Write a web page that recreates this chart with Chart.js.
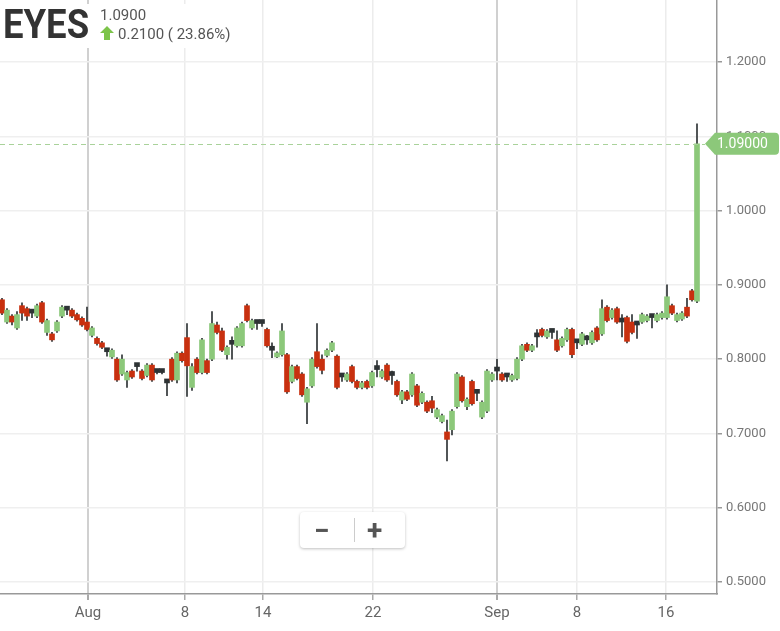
<!DOCTYPE html>
<html>
<head>
<meta charset="utf-8"/>
<title>EYES</title>
<script src="https://cdn.jsdelivr.net/npm/chart.js@4.4.1/dist/chart.umd.min.js"></script>
<style>
  body { margin: 0; background: #fff; font-family: Roboto, sans-serif; }
  #wrap { position: relative; width: 780px; height: 631px; }
  #head { position: absolute; left: 0; top: 4px; width: 255px; height: 44px; background: #fff; }
  #sym { position: absolute; left: 3px; top: -4px; font-size: 41px; font-weight: 700; color: #333;
         transform: scaleX(0.89); transform-origin: left top; letter-spacing: 0px; }
  #last { position: absolute; left: 100px; top: 2px; font-size: 15px; color: #555; }
  #chg { position: absolute; left: 100px; top: 21px; font-size: 15px; color: #555; }
  #chg svg { vertical-align: -1px; margin-right: 4px; }
  #zoom { position: absolute; left: 300px; top: 512px; width: 105px; height: 36px; background: #fff;
          border-radius: 4px; box-shadow: 0 1px 3px rgba(0,0,0,0.25); }
  #zoom .b { position: absolute; top: 2px; font-size: 28px; font-weight: 700; color: #555; }
  #zoom .sep { position: absolute; left: 54px; top: 6px; width: 1px; height: 24px; background: #ccc; }
</style>
</head>
<body>
<div id="wrap">
  <canvas id="chart" width="780" height="631"></canvas>
  <div id="head">
    <div id="sym">EYES</div>
    <div id="last">1.0900</div>
    <div id="chg"><svg width="14" height="14" viewBox="0 0 14 14"><polygon points="7,0 14,7 10,7 10,14 4,14 4,7 0,7" fill="#7cc44a"/></svg>0.2100 ( 23.86%)</div>
  </div>
  <div id="zoom"><span class="b" style="left:14px">&minus;</span><div class="sep"></div><span class="b" style="left:67px">+</span></div>
</div>
<script>
// candles, one per bar slot
var opens = [.880,.850,.858,.842,.872,.868,.862,.858,.876,.836,.834,.838,.858,.866,.866,.860,.855,.850,.832,.828,
  .822,.810,.803,.800,.780,.772,.784,.790,.784,.778,.792,.782,.782,.768,.800,.772,.808,.829,.762,.800,
  .782,.798,.800,.846,.838,.806,.820,.818,.818,.872,.842,.848,.848,.840,.812,.803,.806,.806,.770,.790,
  .780,.742,.764,.810,.800,.805,.812,.804,.776,.772,.790,.770,.762,.770,.764,.786,.776,.792,.778,.770,
  .745,.756,.752,.764,.742,.742,.744,.722,.716,.702,.705,.736,.776,.736,.770,.754,.722,.730,.772,.784,
  .780,.776,.772,.774,.800,.820,.812,.830,.840,.830,.836,.826,.818,.826,.840,.822,.820,.826,.822,.842,
  .834,.870,.856,.868,.850,.856,.850,.846,.850,.852,.856,.852,.856,.856,.872,.852,.854,.870,.892,.878];
var highs = [.882,.868,.860,.864,.876,.870,.866,.874,.878,.854,.836,.852,.872,.870,.868,.862,.857,.870,.844,.830,
  .824,.812,.814,.802,.806,.784,.786,.792,.786,.794,.794,.784,.784,.772,.802,.810,.810,.848,.794,.802,
  .828,.800,.864,.850,.842,.818,.830,.844,.850,.874,.854,.850,.850,.842,.822,.810,.848,.808,.792,.792,
  .782,.762,.802,.848,.806,.814,.824,.806,.780,.782,.792,.772,.770,.772,.784,.798,.786,.794,.784,.772,
  .758,.758,.782,.766,.756,.744,.750,.734,.726,.718,.732,.782,.778,.748,.772,.756,.744,.786,.782,.800,
  .782,.778,.780,.802,.820,.822,.820,.840,.842,.840,.840,.838,.830,.842,.842,.826,.836,.832,.838,.844,
  .880,.872,.868,.870,.860,.858,.860,.850,.862,.860,.858,.862,.864,.900,.874,.862,.864,.882,.894,1.117];
var lows = [.860,.848,.846,.840,.852,.852,.856,.856,.848,.832,.824,.836,.856,.860,.856,.851,.844,.838,.830,.819,
  .814,.804,.801,.770,.778,.762,.774,.784,.772,.776,.770,.780,.780,.751,.770,.768,.796,.750,.758,.780,
  .780,.780,.798,.834,.810,.800,.800,.816,.816,.850,.840,.840,.844,.816,.802,.802,.804,.754,.768,.772,
  .750,.713,.762,.788,.780,.803,.810,.760,.770,.770,.768,.760,.760,.760,.762,.776,.774,.770,.766,.750,
  .740,.744,.750,.736,.740,.728,.728,.720,.714,.663,.698,.734,.742,.732,.738,.744,.720,.728,.770,.772,
  .770,.770,.770,.772,.798,.810,.810,.816,.830,.828,.828,.810,.816,.824,.802,.814,.818,.820,.820,.824,
  .832,.850,.854,.848,.830,.822,.834,.828,.848,.850,.842,.850,.854,.854,.860,.850,.852,.856,.878,.876];
var closes = [.862,.866,.850,.860,.862,.858,.862,.872,.850,.852,.826,.850,.870,.866,.858,.853,.846,.840,.842,.821,
  .816,.810,.812,.772,.800,.782,.776,.790,.774,.792,.772,.782,.782,.768,.772,.808,.798,.791,.790,.782,
  .826,.782,.848,.836,.812,.816,.820,.842,.848,.852,.852,.848,.848,.818,.812,.808,.838,.756,.790,.774,
  .752,.760,.800,.790,.785,.812,.822,.762,.776,.780,.770,.762,.768,.762,.782,.786,.784,.772,.778,.752,
  .756,.746,.780,.738,.754,.730,.734,.732,.724,.692,.730,.780,.744,.746,.740,.754,.742,.784,.780,.784,
  .772,.776,.778,.800,.818,.812,.818,.830,.832,.838,.836,.812,.828,.840,.806,.822,.834,.826,.836,.826,
  .868,.852,.866,.850,.850,.824,.836,.846,.860,.858,.856,.860,.862,.884,.862,.860,.862,.858,.880,1.090];

// date axis: labels and the bar slot where each falls
var dayLabels = ['Aug', '8', '14', '22', 'Sep', '8', '16'];
var daySlots = [17.2, 36.6, 52.2, 74.2, 99, 115, 132.8];
var monthLabels = ['Aug', 'Sep'];
var priceTicks = [0.5, 0.6, 0.7, 0.8, 0.9, 1.0, 1.1, 1.2];
var lastPrice = 1.09;

var GREEN = '#8cc87a', RED = '#c8300f', DARK = '#2e3335';

var wicks = [], bodies = [], bodyColors = [];
for (var i = 0; i < closes.length; i++) {
  wicks.push({x: i, y: [lows[i], highs[i]]});
  bodies.push({x: i, y: [opens[i], closes[i]]});
  bodyColors.push(closes[i] > opens[i] ? GREEN : (closes[i] < opens[i] ? RED : DARK));
}

var priceTag = {
  id: 'priceTag',
  afterDraw: function(chart) {
    var ctx = chart.ctx, y = chart.scales.y.getPixelForValue(lastPrice);
    var area = chart.chartArea;
    ctx.save();
    ctx.strokeStyle = '#a9d29a';
    ctx.lineWidth = 1;
    ctx.setLineDash([5, 4]);
    ctx.beginPath();
    ctx.moveTo(area.left, Math.round(y) + 0.5);
    ctx.lineTo(705, Math.round(y) + 0.5);
    ctx.stroke();
    ctx.setLineDash([]);
    ctx.fillStyle = '#8cc87a';
    ctx.beginPath();
    ctx.moveTo(705, y);
    ctx.lineTo(715, y - 11);
    ctx.lineTo(775, y - 11);
    ctx.quadraticCurveTo(779, y - 11, 779, y - 7);
    ctx.lineTo(779, y + 7);
    ctx.quadraticCurveTo(779, y + 11, 775, y + 11);
    ctx.lineTo(715, y + 11);
    ctx.closePath();
    ctx.fill();
    ctx.fillStyle = '#fff';
    ctx.font = '14px Roboto';
    ctx.textAlign = 'left';
    ctx.textBaseline = 'middle';
    ctx.fillText(lastPrice.toFixed(5), 717, y + 1);
    ctx.restore();
  }
};

var chart = new Chart(document.getElementById('chart'), {
  type: 'bar',
  data: {
    datasets: [
      { data: bodies, backgroundColor: bodyColors, barThickness: 5, minBarLength: 4, grouped: false, order: 0 },
      { data: wicks, backgroundColor: DARK, barThickness: 1, grouped: false, order: 1 }
    ]
  },
  options: {
    responsive: false,
    animation: false,
    layout: { padding: 0 },
    plugins: { legend: { display: false }, tooltip: { enabled: false } },
    scales: {
      x: {
        type: 'linear',
        min: -0.4,
        max: 143,
        offset: false,
        afterBuildTicks: function(s) { s.ticks = daySlots.map(function(v) { return {value: v}; }); },
        afterFit: function(s) { s.height = 37; s.paddingLeft = 0; s.paddingRight = 0; },
        ticks: {
          autoSkip: false,
          maxRotation: 0,
          padding: 4,
          color: '#666',
          font: { family: 'Roboto', size: 15 },
          callback: function(v) { return dayLabels[daySlots.indexOf(v)]; }
        },
        grid: {
          offset: false,
          tickLength: 6,
          tickColor: '#aaa',
          color: function(c) {
            var lbl = dayLabels[daySlots.indexOf(c.tick && c.tick.value)];
            return monthLabels.indexOf(lbl) >= 0 ? '#d0d0d0' : '#ececec';
          },
          lineWidth: function(c) {
            var lbl = dayLabels[daySlots.indexOf(c.tick && c.tick.value)];
            return monthLabels.indexOf(lbl) >= 0 ? 2 : 1.5;
          }
        },
        border: { color: '#999', width: 1.5 }
      },
      y: {
        position: 'right',
        min: 0.4838,
        max: 1.2836,
        afterBuildTicks: function(s) { s.ticks = priceTicks.map(function(v) { return {value: v}; }); },
        afterFit: function(s) { s.width = 63; s.paddingTop = 0; s.paddingBottom = 0; },
        ticks: {
          padding: 4,
          color: '#777',
          font: { family: 'Roboto', size: 13 },
          callback: function(v) { return v.toFixed(4); }
        },
        grid: { color: '#efefef', lineWidth: 1.5, tickLength: 5, tickColor: '#999' },
        border: { color: '#999', width: 1.5 }
      }
    }
  },
  plugins: [priceTag]
});
</script>
</body>
</html>
